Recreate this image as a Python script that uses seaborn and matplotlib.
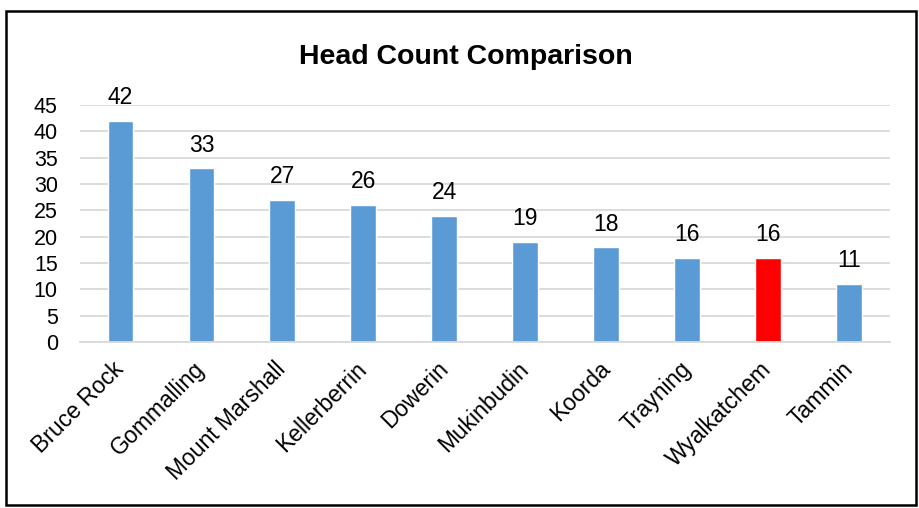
import matplotlib
matplotlib.use('Agg')
import matplotlib.pyplot as plt
import seaborn as sns
import pandas as pd

# chart data
regions = ['Bruce Rock', 'Gommalling', 'Mount Marshall', 'Kellerberrin', 'Dowerin',
           'Mukinbudin', 'Koorda', 'Trayning', 'Wyalkatchem', 'Tammin']
head_counts = [42, 33, 27, 26, 24, 19, 18, 16, 16, 11]
highlight = 'Wyalkatchem'

df = pd.DataFrame({'Region': regions, 'Count': head_counts})
colors = ['#FF0000' if r == highlight else '#5B9BD5' for r in regions]

sns.set_style('white')
plt.rcParams['font.family'] = ['Liberation Sans', 'DejaVu Sans']
plt.rcParams['text.color'] = 'black'

fig = plt.figure(figsize=(9.2, 5.08), dpi=100)
ax = fig.add_axes([0.087, 0.327, 0.88, 0.466])

sns.barplot(data=df, x='Region', y='Count', hue='Region', palette=colors,
            legend=False, width=0.32, saturation=1, ax=ax)

ax.set_ylim(0, 45)
ax.set_yticks(range(0, 46, 5))
ax.yaxis.grid(True, color='#D9D9D9', linewidth=1.3)
ax.set_axisbelow(True)
for s in ['top', 'right', 'left']:
    ax.spines[s].set_visible(False)
ax.spines['bottom'].set_color('#D9D9D9')
ax.spines['bottom'].set_linewidth(1.3)
ax.tick_params(axis='y', length=0, labelsize=15.5, colors='black', pad=16)
ax.tick_params(axis='x', length=0, labelsize=16.5, colors='black', pad=17)
ax.set_xlabel('')
ax.set_ylabel('')
ax.set_xlim(-0.5, len(regions) - 0.5)
plt.setp(ax.get_xticklabels(), rotation=45, ha='right', va='center',
         rotation_mode='anchor')

for i, v in enumerate(head_counts):
    ax.annotate(str(v), (i, v), xytext=(0, 12), textcoords='offset points',
                ha='center', va='baseline', fontsize=16.5)

fig.text(0.506, 0.874, 'Head Count Comparison', ha='center', va='baseline',
         fontsize=20.5, fontweight='bold')

border = plt.Rectangle((0.006, 0.006), 0.99, 0.972, transform=fig.transFigure,
                       fill=False, edgecolor='black', linewidth=1.8)
fig.patches.append(border)

fig.savefig('out.png', dpi=100)
